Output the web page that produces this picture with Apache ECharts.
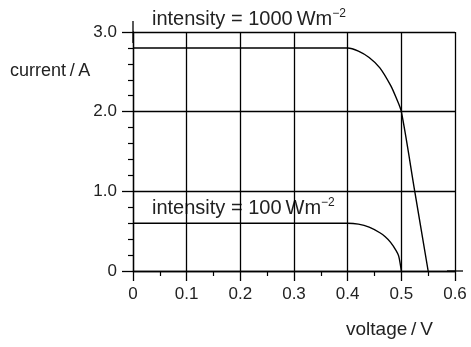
<!DOCTYPE html>
<html>
<head>
<meta charset="utf-8">
<script src="https://cdn.jsdelivr.net/npm/echarts@6/dist/echarts.min.js"></script>
<style>
  html, body { margin: 0; padding: 0; background: #fff; }
  #chart { width: 471px; height: 347px; }
</style>
</head>
<body>
<div id="chart"></div>
<script>
// I-V curves
var voltage1000 = [0, 0.4, 0.42, 0.44, 0.46, 0.48, 0.49, 0.5, 0.525, 0.55];
var current1000 = [2.8, 2.8, 2.76, 2.68, 2.55, 2.33, 2.18, 2.0, 1.0, 0];
var voltage100 = [0, 0.4, 0.42, 0.44, 0.46, 0.47, 0.48, 0.49, 0.495, 0.5];
var current100 = [0.6, 0.6, 0.588, 0.55, 0.48, 0.43, 0.36, 0.26, 0.19, 0];
var xTicks = [0, 0.1, 0.2, 0.3, 0.4, 0.5, 0.6];
var yTicks = [0, 1.0, 2.0, 3.0];

function pairs(xs, ys) {
  return xs.map(function (x, i) { return [x, ys[i]]; });
}

var font = 'Liberation Sans, Arial, sans-serif';
var ink = '#222';

function tickText(v) { return v === 0 ? '0' : v.toFixed(1); }

var chart = echarts.init(document.getElementById('chart'));
chart.setOption({
  animation: false,
  grid: { left: 133, top: 32, right: 16, bottom: 76 },
  xAxis: {
    type: 'value', min: xTicks[0], max: xTicks[xTicks.length - 1], interval: 0.1,
    axisLine: { lineStyle: { color: '#000', width: 1.3 }, symbol: ['none', 'rect'], symbolSize: [1.3, 16] },
    axisTick: { length: 10, lineStyle: { color: '#000', width: 1.3 } },
    minorTick: { show: true, splitNumber: 2, length: 5, lineStyle: { color: '#000', width: 1.2 } },
    splitLine: { lineStyle: { color: '#000', width: 1.3 } },
    axisLabel: { margin: 15, color: ink, fontFamily: font, fontSize: 17, formatter: tickText }
  },
  yAxis: {
    type: 'value', min: yTicks[0], max: yTicks[yTicks.length - 1], interval: 1,
    axisLine: { show: true, lineStyle: { color: '#000', width: 1.3 }, symbol: ['none', 'rect'], symbolSize: [1.3, 22] },
    axisTick: { show: true, length: 11, lineStyle: { color: '#000', width: 1.3 } },
    minorTick: { show: true, splitNumber: 5, length: 5, lineStyle: { color: '#000', width: 1.2 } },
    splitLine: { lineStyle: { color: '#000', width: 1.3 } },
    axisLabel: { margin: 16, color: ink, fontFamily: font, fontSize: 17, formatter: tickText }
  },
  graphic: [
    { type: 'text', left: 10, top: 62, style: { text: 'current\u2009/\u2009A', fill: ink, font: '18px ' + font } },
    { type: 'text', left: 346, top: 320, style: { text: 'voltage\u2009/\u2009V', fill: ink, font: '19px ' + font } },
    {
      type: 'text', left: 152, top: 8,
      style: {
        text: '{t|intensity = 1000\u2009Wm}{s|−2}', fill: ink,
        rich: { t: { fontFamily: font, fontSize: 20, fill: ink }, s: { fontFamily: font, fontSize: 12, fill: ink, verticalAlign: 'top', padding: [0, 0, 10, 0] } }
      }
    },
    {
      type: 'text', left: 152, top: 197,
      style: {
        text: '{t|intensity = 100\u2009Wm}{s|−2}', fill: ink,
        rich: { t: { fontFamily: font, fontSize: 20, fill: ink }, s: { fontFamily: font, fontSize: 12, fill: ink, verticalAlign: 'top', padding: [0, 0, 10, 0] } }
      }
    }
  ],
  series: [
    {
      type: 'line', data: pairs(voltage1000, current1000), smooth: 0.3, showSymbol: false,
      lineStyle: { color: '#000', width: 1.4 }
    },
    {
      type: 'line', data: pairs(voltage100, current100), smooth: 0.3, showSymbol: false,
      lineStyle: { color: '#000', width: 1.4 }
    }
  ]
});
</script>
</body>
</html>
